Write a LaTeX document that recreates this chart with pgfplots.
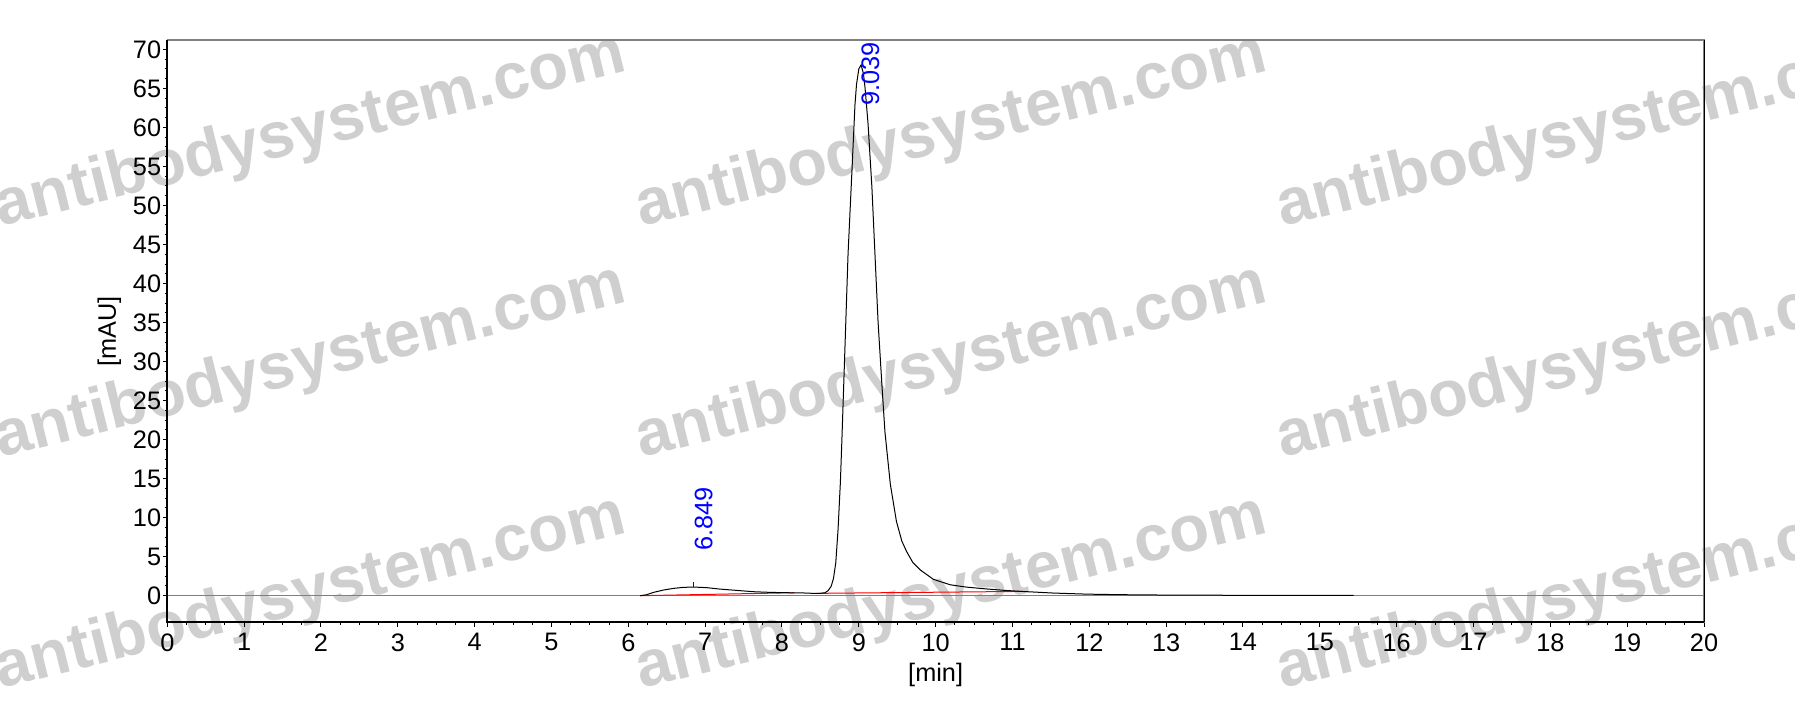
\documentclass[border=0pt]{standalone}
\usepackage{pgfplots}
\pgfplotsset{compat=1.18}
\usepackage{fontspec}
\setmainfont{Liberation Sans}

\newcommand\lblfont{\fontsize{7.2}{8.6}\selectfont}

\begin{document}
\begin{tikzpicture}
% watermark, drawn first so the chart sits on top
\foreach \wx in {-16.73,47.37,111.47}{
  \foreach \wy in {39.53,16.43,-6.67}{
    \node[rotate=14, anchor=base west, inner sep=0pt, text=black!19,
          font=\fontsize{18.5}{22}\selectfont\bfseries] at (\wx mm,\wy mm) {antibodysystem.com};
  }
}
\begin{axis}[
    scale only axis,
    width=153.67mm, height=58.23mm,
    xmin=0, xmax=20,
    ymin=-3.41, ymax=71.2,
    xtick={0,1,...,20},
    ytick={0,5,...,70},
    minor x tick num=3,
    minor y tick num=3,
    tick align=outside,
    tick pos=left,
    major tick length=0.45mm,
    minor tick length=0.25mm,
    tick style={black, line width=0.1mm},
    axis line style={draw=gray, line width=0.15mm},
    clip=false,
    /pgf/number format/assume math mode=true,
    tick label style={font=\lblfont, inner sep=0pt},
    yticklabel style={xshift=-0.1mm},
    xticklabel style={yshift=-0.6mm},
    label style={font=\lblfont},
    xlabel={[min]},
    ylabel={[mAU]},
    xlabel style={at={(axis description cs:0.5,-0.0905)}, anchor=center},
    ylabel style={at={(axis description cs:-0.0377,0.5)}, anchor=center},
]
% zero line
\addplot[gray, line width=0.1mm] coordinates {(0,0)(20,0)};
% integration baselines
\addplot[red, line width=0.1mm] coordinates {(6.155,0)(8.16,0.38)};
\addplot[red, line width=0.1mm] coordinates {(8.45,0.30)(11.12,0.55)};
% chromatogram
\addplot[black, line width=0.1mm] coordinates {
(6.155,0)(6.24,0.13)(6.33,0.43)(6.46,0.73)(6.59,0.94)(6.72,1.07)(6.85,1.11)
(7.02,1.03)(7.19,0.85)(7.41,0.68)(7.63,0.51)(7.84,0.43)(8.06,0.38)(8.23,0.37)
(8.41,0.30)(8.49,0.30)(8.56,0.38)(8.60,0.64)(8.64,1.2)(8.67,2.2)(8.70,4.2)
(8.73,8.5)(8.76,14.5)(8.78,20)(8.82,31.9)(8.86,43.8)(8.91,54.3)(8.95,62.9)
(8.97,65.5)(9.00,67.5)(9.03,68.0)(9.06,66.9)(9.08,65.2)(9.12,60.5)(9.17,52.4)
(9.21,43.8)(9.25,35.2)(9.30,27.1)(9.34,21.0)(9.41,14.3)(9.49,9.5)(9.56,7.0)
(9.62,5.7)(9.70,4.3)(9.80,3.3)(9.97,2.1)(10.19,1.4)(10.40,1.1)(10.67,0.86)
(10.90,0.68)(11.10,0.56)(11.53,0.34)(11.97,0.20)(12.40,0.13)(13.0,0.08)
(14.0,0.05)(15.44,0.03)
};
% peak marker and retention time labels
\addplot[blue, line width=0.1mm] coordinates {(6.849,1.11)(6.849,1.8)};
\node[rotate=90, anchor=west, inner sep=0pt, text=blue, font=\lblfont]
  at (axis cs:6.98,5.73) {6.849};
\node[rotate=90, anchor=west, inner sep=0pt, text=blue, font=\lblfont]
  at (axis cs:9.15,62.7) {9.039};
% frame: heavy left and bottom, thin right
\draw[black, line width=0.2mm] (rel axis cs:0,1) -- (rel axis cs:0,0) -- (rel axis cs:1,0);
\draw[black, line width=0.1mm] (rel axis cs:1,0) -- (rel axis cs:1,1);
\end{axis}
\pgfresetboundingbox
\useasboundingbox (-16.73mm,-10.37mm) rectangle (162.77mm,62.23mm);
\end{tikzpicture}
\end{document}
